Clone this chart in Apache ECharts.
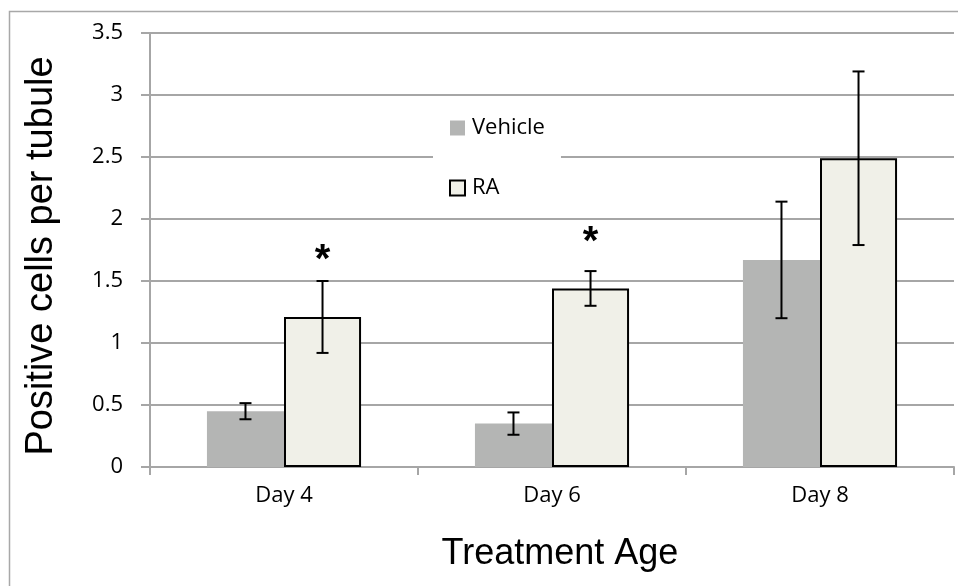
<!DOCTYPE html>
<html>
<head>
<meta charset="utf-8">
<script src="https://cdn.jsdelivr.net/npm/echarts@6/dist/echarts.min.js"></script>
<style>
  html, body { margin: 0; padding: 0; background: #ffffff; }
  #chart { width: 958px; height: 586px; }
</style>
</head>
<body>
<div id="chart"></div>
<script>
// Treatment days on the x axis
const categories = ['Day 4', 'Day 6', 'Day 8'];

// Mean positive cells per tubule and their error (±)
const vehicleMean = [0.45, 0.35, 1.67];
const vehicleErr  = [0.065, 0.09, 0.47];
const raMean      = [1.21, 1.44, 2.49];
const raErr       = [0.29, 0.14, 0.70];

// Height of the significance asterisk for RA (null = not significant)
const raStarAt = [1.73, 1.87, null];

const yTicks = [0, 0.5, 1, 1.5, 2, 2.5, 3, 3.5];

const CATEGORY_GAP = 0.425;   // share of each band left empty around the bar pair
const LABEL_FONT = 'Open Sans';

const chart = echarts.init(document.getElementById('chart'), null, { renderer: 'canvas' });

// error-bar items: [category index, mean, error, side (-1 vehicle, +1 RA), star value]
const errorItems = [];
categories.forEach((c, i) => {
  errorItems.push([i, vehicleMean[i], vehicleErr[i], -1, null]);
  errorItems.push([i, raMean[i], raErr[i], 1, raStarAt[i]]);
});

function renderErrorBar(params, api) {
  const cat = api.value(0);
  const mean = api.value(1);
  const err = api.value(2);
  const side = api.value(3);
  const star = errorItems[params.dataIndex][4];
  const band = api.size([1, 0])[0];
  const barW = band * (1 - CATEGORY_GAP) / 2;
  const x = api.coord([cat, mean])[0] + side * barW / 2;
  const yHi = api.coord([cat, mean + err])[1];
  const yLo = api.coord([cat, mean - err])[1];
  const cap = 6;
  const style = { stroke: '#000000', lineWidth: 2 };
  const children = [
    { type: 'line', shape: { x1: x, y1: yHi, x2: x, y2: yLo }, style },
    { type: 'line', shape: { x1: x - cap, y1: yHi, x2: x + cap, y2: yHi }, style },
    { type: 'line', shape: { x1: x - cap, y1: yLo, x2: x + cap, y2: yLo }, style }
  ];
  if (star != null) {
    const ys = api.coord([cat, star])[1];
    children.push({
      type: 'text',
      style: {
        text: '*', x: x, y: ys + 8,
        fontSize: 40, fontWeight: 'bold', fontFamily: 'Liberation Sans',
        fill: '#000000', align: 'center', verticalAlign: 'middle'
      }
    });
  }
  return { type: 'group', children };
}

const option = {
  backgroundColor: '#ffffff',
  animation: false,
  graphic: [{
    type: 'rect',
    shape: { x: 9.5, y: 11.5, width: 1000, height: 1000 },
    style: { fill: 'none', stroke: '#a8a8a8', lineWidth: 1.5 },
    silent: true, z: -10
  }],
  grid: { left: 150, right: 4, top: 33, bottom: 119, containLabel: false },
  legend: {
    data: [
      { name: 'Vehicle', icon: 'rect' },
      { name: 'RA', icon: 'rect' }
    ],
    orient: 'vertical',
    left: 433,
    top: 104,
    padding: [13, 16, 13, 16],
    backgroundColor: '#ffffff',
    itemWidth: 15,
    itemHeight: 15,
    itemGap: 38,
    textStyle: { fontFamily: LABEL_FONT, fontSize: 22, color: '#000000', padding: [0, 0, 0, 2] },
    z: 10
  },
  xAxis: {
    type: 'category',
    data: categories,
    name: 'Treatment Age',
    nameLocation: 'middle',
    nameGap: 69,
    nameTextStyle: {
      fontFamily: 'Liberation Sans', fontSize: 36, color: '#000000',
      padding: [0, 0, 0, 16]
    },
    axisLine: { show: true, lineStyle: { color: '#a6a6a6', width: 2 } },
    axisTick: { show: true, length: 8, lineStyle: { color: '#a6a6a6', width: 2 } },
    axisLabel: { margin: 18, fontFamily: LABEL_FONT, fontSize: 22, color: '#000000' }
  },
  yAxis: {
    type: 'value',
    min: 0,
    max: 3.5,
    interval: 0.5,
    name: 'Positive cells per tubule',
    nameLocation: 'middle',
    nameGap: 89,
    nameTextStyle: {
      fontFamily: 'Liberation Sans', fontSize: 38, color: '#000000',
      padding: [0, 12, 0, 0]
    },
    axisLine: { show: true, lineStyle: { color: '#a6a6a6', width: 2 } },
    axisTick: { show: true, length: 9, lineStyle: { color: '#a6a6a6', width: 2 } },
    axisLabel: {
      margin: 27, fontFamily: LABEL_FONT, fontSize: 22, color: '#000000',
      formatter: v => (yTicks.indexOf(v) >= 0 ? String(v) : '')
    },
    splitLine: { show: true, lineStyle: { color: '#a6a6a6', width: 2 } }
  },
  series: [
    {
      name: 'Vehicle',
      type: 'bar',
      data: vehicleMean,
      barGap: '0%',
      barCategoryGap: (CATEGORY_GAP * 100) + '%',
      itemStyle: { color: '#b4b5b4', borderWidth: 0 }
    },
    {
      name: 'RA',
      type: 'bar',
      data: raMean,
      barGap: '0%',
      barCategoryGap: (CATEGORY_GAP * 100) + '%',
      itemStyle: { color: '#f0f0e8', borderColor: '#000000', borderWidth: 2 }
    },
    {
      name: 'error',
      type: 'custom',
      renderItem: renderErrorBar,
      data: errorItems.map(d => d.slice(0, 4)),
      encode: { x: 0, y: 1 },
      z: 5,
      silent: true
    }
  ]
};

chart.setOption(option);
</script>
</body>
</html>
